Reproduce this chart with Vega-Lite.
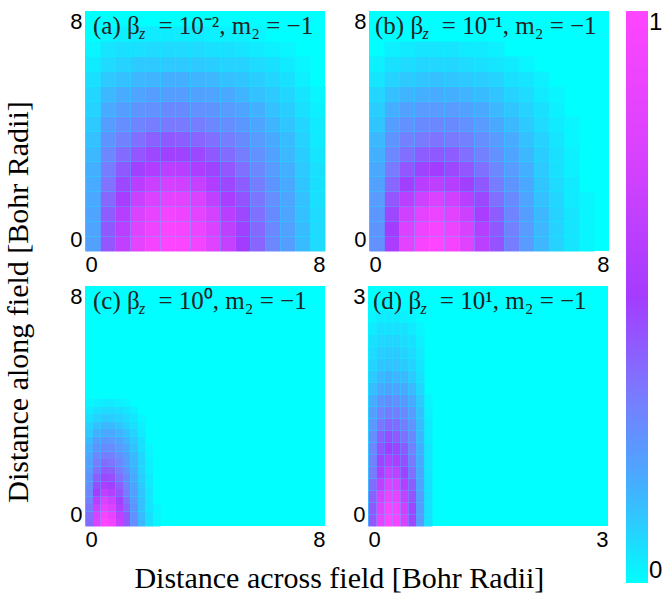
{
 "$schema": "https://vega.github.io/schema/vega-lite/v6.json",
 "background": "white",
 "padding": {"left": 3, "top": 10, "right": 0, "bottom": 0},
 "vconcat": [{
  "title": {"text": "Distance along field [Bohr Radii]", "orient": "left", "anchor": "middle", "font": "Liberation Serif", "fontSize": 30, "fontWeight": "normal", "color": "black", "offset": 36},
  "vconcat": [{
   "title": {"text": "Distance across field [Bohr Radii]", "orient": "bottom", "anchor": "middle", "font": "Liberation Serif", "fontSize": 30, "fontWeight": "normal", "color": "black", "offset": 14},
   "spacing": 10,
   "vconcat": [
    {"spacing": 27, "hconcat": [
     {"width": 240, "height": 240, "layer": [
      {"data": {"name": "a"}, "mark": {"type": "rect"},
       "encoding": {
        "x": {"field": "x", "type": "quantitative", "bin": {"step": 0.5, "extent": [0, 8]}, "scale": {"domain": [0, 8]}, "axis": {"values": [0, 8]}, "title": null},
        "y": {"field": "y", "type": "quantitative", "bin": {"step": 0.5, "extent": [0, 8]}, "scale": {"domain": [0, 8]}, "axis": {"values": [0, 8]}, "title": null},
        "color": {"field": "v", "type": "quantitative", "scale": {"domain": [0, 0.08, 0.18, 0.33, 0.5, 0.75, 1], "range": ["#00ffff", "#22d6ff", "#48abff", "#7a7aff", "#a43cff", "#d842ff", "#ff45ff"], "interpolate": "rgb"},
         "legend": {"type": "gradient", "title": null, "orient": "right", "offset": 17, "direction": "vertical", "gradientLength": 572, "gradientThickness": 22, "values": [0, 1], "format": "d", "labelFont": "Liberation Sans", "labelFontSize": 24, "labelColor": "black", "labelOffset": 1, "gradientStrokeWidth": 0}}
       }},
      {"data": {"values": [{"t": "(a) β\u2002 = 10⁻², m₂ = −1"}]}, "mark": {"type": "text", "font": "Liberation Serif", "fontSize": 25, "align": "left", "baseline": "alphabetic", "dx": 8, "dy": 23, "color": "#222222"},
       "encoding": {"x": {"datum": 0, "title": null}, "y": {"datum": 8, "title": null}, "text": {"field": "t"}}},
      {"data": {"values": [{"t": "z"}]}, "mark": {"type": "text", "font": "Liberation Serif", "fontSize": 16, "fontStyle": "italic", "align": "left", "baseline": "alphabetic", "dx": 54, "dy": 28, "color": "#222222"},
       "encoding": {"x": {"datum": 0, "title": null}, "y": {"datum": 8, "title": null}, "text": {"field": "t"}}}
     ]},
     {"width": 240, "height": 240, "layer": [
      {"data": {"name": "b"}, "mark": {"type": "rect"},
       "encoding": {
        "x": {"field": "x", "type": "quantitative", "bin": {"step": 0.5, "extent": [0, 8]}, "scale": {"domain": [0, 8]}, "axis": {"values": [0, 8]}, "title": null},
        "y": {"field": "y", "type": "quantitative", "bin": {"step": 0.5, "extent": [0, 8]}, "scale": {"domain": [0, 8]}, "axis": {"values": [0, 8]}, "title": null},
        "color": {"field": "v", "type": "quantitative", "scale": {"domain": [0, 0.08, 0.18, 0.33, 0.5, 0.75, 1], "range": ["#00ffff", "#22d6ff", "#48abff", "#7a7aff", "#a43cff", "#d842ff", "#ff45ff"], "interpolate": "rgb"}}
       }},
      {"data": {"values": [{"t": "(b) β\u2002 = 10⁻¹, m₂ = −1"}]}, "mark": {"type": "text", "font": "Liberation Serif", "fontSize": 25, "align": "left", "baseline": "alphabetic", "dx": 6, "dy": 23, "color": "#222222"},
       "encoding": {"x": {"datum": 0, "title": null}, "y": {"datum": 8, "title": null}, "text": {"field": "t"}}},
      {"data": {"values": [{"t": "z"}]}, "mark": {"type": "text", "font": "Liberation Serif", "fontSize": 16, "fontStyle": "italic", "align": "left", "baseline": "alphabetic", "dx": 53.5, "dy": 28, "color": "#222222"},
       "encoding": {"x": {"datum": 0, "title": null}, "y": {"datum": 8, "title": null}, "text": {"field": "t"}}}
     ]}
    ]},
    {"spacing": 27, "hconcat": [
     {"width": 240, "height": 240, "layer": [
      {"data": {"name": "c"}, "mark": {"type": "rect"},
       "encoding": {
        "x": {"field": "x", "type": "quantitative", "bin": {"step": 0.25, "extent": [0, 8]}, "scale": {"domain": [0, 8]}, "axis": {"values": [0, 8]}, "title": null},
        "y": {"field": "y", "type": "quantitative", "bin": {"step": 0.25, "extent": [0, 8]}, "scale": {"domain": [0, 8]}, "axis": {"values": [0, 8]}, "title": null},
        "color": {"field": "v", "type": "quantitative", "scale": {"domain": [0, 0.08, 0.18, 0.33, 0.5, 0.75, 1], "range": ["#00ffff", "#22d6ff", "#48abff", "#7a7aff", "#a43cff", "#d842ff", "#ff45ff"], "interpolate": "rgb"}}
       }},
      {"data": {"values": [{"t": "(c) β\u2002 = 10⁰, m₂ = −1"}]}, "mark": {"type": "text", "font": "Liberation Serif", "fontSize": 25, "align": "left", "baseline": "alphabetic", "dx": 8, "dy": 23, "color": "#222222"},
       "encoding": {"x": {"datum": 0, "title": null}, "y": {"datum": 8, "title": null}, "text": {"field": "t"}}},
      {"data": {"values": [{"t": "z"}]}, "mark": {"type": "text", "font": "Liberation Serif", "fontSize": 16, "fontStyle": "italic", "align": "left", "baseline": "alphabetic", "dx": 54, "dy": 28, "color": "#222222"},
       "encoding": {"x": {"datum": 0, "title": null}, "y": {"datum": 8, "title": null}, "text": {"field": "t"}}}
     ]},
     {"width": 240, "height": 240, "layer": [
      {"data": {"name": "d"}, "mark": {"type": "rect"},
       "encoding": {
        "x": {"field": "x", "type": "quantitative", "bin": {"step": 0.1, "extent": [0, 3]}, "scale": {"domain": [0, 3]}, "axis": {"values": [0, 3]}, "title": null},
        "y": {"field": "y", "type": "quantitative", "bin": {"step": 0.15, "extent": [0, 3]}, "scale": {"domain": [0, 3]}, "axis": {"values": [0, 3]}, "title": null},
        "color": {"field": "v", "type": "quantitative", "scale": {"domain": [0, 0.08, 0.18, 0.33, 0.5, 0.75, 1], "range": ["#00ffff", "#22d6ff", "#48abff", "#7a7aff", "#a43cff", "#d842ff", "#ff45ff"], "interpolate": "rgb"}}
       }},
      {"data": {"values": [{"t": "(d) β\u2002 = 10¹, m₂ = −1"}]}, "mark": {"type": "text", "font": "Liberation Serif", "fontSize": 25, "align": "left", "baseline": "alphabetic", "dx": 5, "dy": 23, "color": "#222222"},
       "encoding": {"x": {"datum": 0, "title": null}, "y": {"datum": 3, "title": null}, "text": {"field": "t"}}},
      {"data": {"values": [{"t": "z"}]}, "mark": {"type": "text", "font": "Liberation Serif", "fontSize": 16, "fontStyle": "italic", "align": "left", "baseline": "alphabetic", "dx": 52.5, "dy": 28, "color": "#222222"},
       "encoding": {"x": {"datum": 0, "title": null}, "y": {"datum": 3, "title": null}, "text": {"field": "t"}}}
     ]}
    ]}
   ]
  }]
 }],
 "datasets": {
  "a": [
   {"x":0.25,"y":0.25,"v":0.21},{"x":0.75,"y":0.25,"v":0.43},{"x":1.25,"y":0.25,"v":0.64},{"x":1.75,"y":0.25,"v":0.83},{"x":2.25,"y":0.25,"v":0.93},{"x":2.75,"y":0.25,"v":1.00},{"x":3.25,"y":0.25,"v":0.98},{"x":3.75,"y":0.25,"v":0.92},{"x":4.25,"y":0.25,"v":0.80},{"x":4.75,"y":0.25,"v":0.66},{"x":5.25,"y":0.25,"v":0.50},{"x":5.75,"y":0.25,"v":0.39},{"x":6.25,"y":0.25,"v":0.29},{"x":6.75,"y":0.25,"v":0.22},{"x":7.25,"y":0.25,"v":0.14},{"x":7.75,"y":0.25,"v":0.07},
   {"x":0.25,"y":0.75,"v":0.20},{"x":0.75,"y":0.75,"v":0.42},{"x":1.25,"y":0.75,"v":0.61},{"x":1.75,"y":0.75,"v":0.80},{"x":2.25,"y":0.75,"v":0.90},{"x":2.75,"y":0.75,"v":0.97},{"x":3.25,"y":0.75,"v":0.95},{"x":3.75,"y":0.75,"v":0.88},{"x":4.25,"y":0.75,"v":0.76},{"x":4.75,"y":0.75,"v":0.63},{"x":5.25,"y":0.75,"v":0.49},{"x":5.75,"y":0.75,"v":0.38},{"x":6.25,"y":0.75,"v":0.29},{"x":6.75,"y":0.75,"v":0.21},{"x":7.25,"y":0.75,"v":0.14},{"x":7.75,"y":0.75,"v":0.07},
   {"x":0.25,"y":1.25,"v":0.20},{"x":0.75,"y":1.25,"v":0.41},{"x":1.25,"y":1.25,"v":0.58},{"x":1.75,"y":1.25,"v":0.76},{"x":2.25,"y":1.25,"v":0.85},{"x":2.75,"y":1.25,"v":0.92},{"x":3.25,"y":1.25,"v":0.90},{"x":3.75,"y":1.25,"v":0.83},{"x":4.25,"y":1.25,"v":0.73},{"x":4.75,"y":1.25,"v":0.60},{"x":5.25,"y":1.25,"v":0.47},{"x":5.75,"y":1.25,"v":0.36},{"x":6.25,"y":1.25,"v":0.28},{"x":6.75,"y":1.25,"v":0.20},{"x":7.25,"y":1.25,"v":0.13},{"x":7.75,"y":1.25,"v":0.07},
   {"x":0.25,"y":1.75,"v":0.19},{"x":0.75,"y":1.75,"v":0.38},{"x":1.25,"y":1.75,"v":0.52},{"x":1.75,"y":1.75,"v":0.68},{"x":2.25,"y":1.75,"v":0.76},{"x":2.75,"y":1.75,"v":0.83},{"x":3.25,"y":1.75,"v":0.81},{"x":3.75,"y":1.75,"v":0.76},{"x":4.25,"y":1.75,"v":0.64},{"x":4.75,"y":1.75,"v":0.53},{"x":5.25,"y":1.75,"v":0.44},{"x":5.75,"y":1.75,"v":0.34},{"x":6.25,"y":1.75,"v":0.27},{"x":6.75,"y":1.75,"v":0.20},{"x":7.25,"y":1.75,"v":0.13},{"x":7.75,"y":1.75,"v":0.06},
   {"x":0.25,"y":2.25,"v":0.18},{"x":0.75,"y":2.25,"v":0.35},{"x":1.25,"y":2.25,"v":0.47},{"x":1.75,"y":2.25,"v":0.60},{"x":2.25,"y":2.25,"v":0.68},{"x":2.75,"y":2.25,"v":0.73},{"x":3.25,"y":2.25,"v":0.71},{"x":3.75,"y":2.25,"v":0.66},{"x":4.25,"y":2.25,"v":0.56},{"x":4.75,"y":2.25,"v":0.47},{"x":5.25,"y":2.25,"v":0.41},{"x":5.75,"y":2.25,"v":0.32},{"x":6.25,"y":2.25,"v":0.25},{"x":6.75,"y":2.25,"v":0.19},{"x":7.25,"y":2.25,"v":0.12},{"x":7.75,"y":2.25,"v":0.06},
   {"x":0.25,"y":2.75,"v":0.17},{"x":0.75,"y":2.75,"v":0.32},{"x":1.25,"y":2.75,"v":0.42},{"x":1.75,"y":2.75,"v":0.49},{"x":2.25,"y":2.75,"v":0.56},{"x":2.75,"y":2.75,"v":0.61},{"x":3.25,"y":2.75,"v":0.60},{"x":3.75,"y":2.75,"v":0.55},{"x":4.25,"y":2.75,"v":0.48},{"x":4.75,"y":2.75,"v":0.43},{"x":5.25,"y":2.75,"v":0.36},{"x":5.75,"y":2.75,"v":0.29},{"x":6.25,"y":2.75,"v":0.23},{"x":6.75,"y":2.75,"v":0.17},{"x":7.25,"y":2.75,"v":0.11},{"x":7.75,"y":2.75,"v":0.06},
   {"x":0.25,"y":3.25,"v":0.15},{"x":0.75,"y":3.25,"v":0.29},{"x":1.25,"y":3.25,"v":0.37},{"x":1.75,"y":3.25,"v":0.43},{"x":2.25,"y":3.25,"v":0.47},{"x":2.75,"y":3.25,"v":0.49},{"x":3.25,"y":3.25,"v":0.48},{"x":3.75,"y":3.25,"v":0.47},{"x":4.25,"y":3.25,"v":0.42},{"x":4.75,"y":3.25,"v":0.37},{"x":5.25,"y":3.25,"v":0.32},{"x":5.75,"y":3.25,"v":0.26},{"x":6.25,"y":3.25,"v":0.21},{"x":6.75,"y":3.25,"v":0.15},{"x":7.25,"y":3.25,"v":0.10},{"x":7.75,"y":3.25,"v":0.05},
   {"x":0.25,"y":3.75,"v":0.13},{"x":0.75,"y":3.75,"v":0.25},{"x":1.25,"y":3.75,"v":0.31},{"x":1.75,"y":3.75,"v":0.36},{"x":2.25,"y":3.75,"v":0.40},{"x":2.75,"y":3.75,"v":0.42},{"x":3.25,"y":3.75,"v":0.41},{"x":3.75,"y":3.75,"v":0.39},{"x":4.25,"y":3.75,"v":0.36},{"x":4.75,"y":3.75,"v":0.32},{"x":5.25,"y":3.75,"v":0.28},{"x":5.75,"y":3.75,"v":0.23},{"x":6.25,"y":3.75,"v":0.19},{"x":6.75,"y":3.75,"v":0.14},{"x":7.25,"y":3.75,"v":0.09},{"x":7.75,"y":3.75,"v":0.04},
   {"x":0.25,"y":4.25,"v":0.11},{"x":0.75,"y":4.25,"v":0.22},{"x":1.25,"y":4.25,"v":0.27},{"x":1.75,"y":4.25,"v":0.30},{"x":2.25,"y":4.25,"v":0.32},{"x":2.75,"y":4.25,"v":0.33},{"x":3.25,"y":4.25,"v":0.33},{"x":3.75,"y":4.25,"v":0.32},{"x":4.25,"y":4.25,"v":0.29},{"x":4.75,"y":4.25,"v":0.27},{"x":5.25,"y":4.25,"v":0.24},{"x":5.75,"y":4.25,"v":0.20},{"x":6.25,"y":4.25,"v":0.16},{"x":6.75,"y":4.25,"v":0.12},{"x":7.25,"y":4.25,"v":0.08},{"x":7.75,"y":4.25,"v":0.04},
   {"x":0.25,"y":4.75,"v":0.09},{"x":0.75,"y":4.75,"v":0.18},{"x":1.25,"y":4.75,"v":0.22},{"x":1.75,"y":4.75,"v":0.25},{"x":2.25,"y":4.75,"v":0.26},{"x":2.75,"y":4.75,"v":0.28},{"x":3.25,"y":4.75,"v":0.28},{"x":3.75,"y":4.75,"v":0.26},{"x":4.25,"y":4.75,"v":0.25},{"x":4.75,"y":4.75,"v":0.23},{"x":5.25,"y":4.75,"v":0.20},{"x":5.75,"y":4.75,"v":0.17},{"x":6.25,"y":4.75,"v":0.13},{"x":6.75,"y":4.75,"v":0.10},{"x":7.25,"y":4.75,"v":0.06},{"x":7.75,"y":4.75,"v":0.03},
   {"x":0.25,"y":5.25,"v":0.08},{"x":0.75,"y":5.25,"v":0.15},{"x":1.25,"y":5.25,"v":0.18},{"x":1.75,"y":5.25,"v":0.20},{"x":2.25,"y":5.25,"v":0.22},{"x":2.75,"y":5.25,"v":0.22},{"x":3.25,"y":5.25,"v":0.22},{"x":3.75,"y":5.25,"v":0.21},{"x":4.25,"y":5.25,"v":0.20},{"x":4.75,"y":5.25,"v":0.19},{"x":5.25,"y":5.25,"v":0.16},{"x":5.75,"y":5.25,"v":0.13},{"x":6.25,"y":5.25,"v":0.11},{"x":6.75,"y":5.25,"v":0.08},{"x":7.25,"y":5.25,"v":0.05},{"x":7.75,"y":5.25,"v":0.02},
   {"x":0.25,"y":5.75,"v":0.06},{"x":0.75,"y":5.75,"v":0.11},{"x":1.25,"y":5.75,"v":0.13},{"x":1.75,"y":5.75,"v":0.15},{"x":2.25,"y":5.75,"v":0.16},{"x":2.75,"y":5.75,"v":0.17},{"x":3.25,"y":5.75,"v":0.17},{"x":3.75,"y":5.75,"v":0.16},{"x":4.25,"y":5.75,"v":0.15},{"x":4.75,"y":5.75,"v":0.13},{"x":5.25,"y":5.75,"v":0.12},{"x":5.75,"y":5.75,"v":0.10},{"x":6.25,"y":5.75,"v":0.08},{"x":6.75,"y":5.75,"v":0.06},{"x":7.25,"y":5.75,"v":0.03},
   {"x":0.25,"y":6.25,"v":0.04},{"x":0.75,"y":6.25,"v":0.07},{"x":1.25,"y":6.25,"v":0.09},{"x":1.75,"y":6.25,"v":0.11},{"x":2.25,"y":6.25,"v":0.11},{"x":2.75,"y":6.25,"v":0.11},{"x":3.25,"y":6.25,"v":0.11},{"x":3.75,"y":6.25,"v":0.11},{"x":4.25,"y":6.25,"v":0.10},{"x":4.75,"y":6.25,"v":0.09},{"x":5.25,"y":6.25,"v":0.09},{"x":5.75,"y":6.25,"v":0.07},{"x":6.25,"y":6.25,"v":0.06},{"x":6.75,"y":6.25,"v":0.04},{"x":7.25,"y":6.25,"v":0.02},
   {"x":0.25,"y":6.75,"v":0.02},{"x":0.75,"y":6.75,"v":0.05},{"x":1.25,"y":6.75,"v":0.06},{"x":1.75,"y":6.75,"v":0.06},{"x":2.25,"y":6.75,"v":0.07},{"x":2.75,"y":6.75,"v":0.07},{"x":3.25,"y":6.75,"v":0.07},{"x":3.75,"y":6.75,"v":0.07},{"x":4.25,"y":6.75,"v":0.06},{"x":4.75,"y":6.75,"v":0.06},{"x":5.25,"y":6.75,"v":0.05},{"x":5.75,"y":6.75,"v":0.04},{"x":6.25,"y":6.75,"v":0.03},{"x":6.75,"y":6.75,"v":0.02},
   {"x":0.75,"y":7.25,"v":0.02},{"x":1.25,"y":7.25,"v":0.03},{"x":1.75,"y":7.25,"v":0.04},{"x":2.25,"y":7.25,"v":0.04},{"x":2.75,"y":7.25,"v":0.04},{"x":3.25,"y":7.25,"v":0.04},{"x":3.75,"y":7.25,"v":0.04},{"x":4.25,"y":7.25,"v":0.03},{"x":4.75,"y":7.25,"v":0.03},{"x":5.25,"y":7.25,"v":0.03},{"x":5.75,"y":7.25,"v":0.02}
  ],
  "b": [
   {"x":0.25,"y":0.25,"v":0.26},{"x":0.75,"y":0.25,"v":0.53},{"x":1.25,"y":0.25,"v":0.81},{"x":1.75,"y":0.25,"v":0.95},{"x":2.25,"y":0.25,"v":1.00},{"x":2.75,"y":0.25,"v":0.93},{"x":3.25,"y":0.25,"v":0.80},{"x":3.75,"y":0.25,"v":0.61},{"x":4.25,"y":0.25,"v":0.44},{"x":4.75,"y":0.25,"v":0.32},{"x":5.25,"y":0.25,"v":0.23},{"x":5.75,"y":0.25,"v":0.15},{"x":6.25,"y":0.25,"v":0.09},{"x":6.75,"y":0.25,"v":0.05},{"x":7.25,"y":0.25,"v":0.02},
   {"x":0.25,"y":0.75,"v":0.25},{"x":0.75,"y":0.75,"v":0.50},{"x":1.25,"y":0.75,"v":0.76},{"x":1.75,"y":0.75,"v":0.90},{"x":2.25,"y":0.75,"v":0.95},{"x":2.75,"y":0.75,"v":0.88},{"x":3.25,"y":0.75,"v":0.75},{"x":3.75,"y":0.75,"v":0.58},{"x":4.25,"y":0.75,"v":0.42},{"x":4.75,"y":0.75,"v":0.31},{"x":5.25,"y":0.75,"v":0.23},{"x":5.75,"y":0.75,"v":0.15},{"x":6.25,"y":0.75,"v":0.09},{"x":6.75,"y":0.75,"v":0.05},{"x":7.25,"y":0.75,"v":0.02},
   {"x":0.25,"y":1.25,"v":0.24},{"x":0.75,"y":1.25,"v":0.47},{"x":1.25,"y":1.25,"v":0.71},{"x":1.75,"y":1.25,"v":0.83},{"x":2.25,"y":1.25,"v":0.88},{"x":2.75,"y":1.25,"v":0.81},{"x":3.25,"y":1.25,"v":0.69},{"x":3.75,"y":1.25,"v":0.53},{"x":4.25,"y":1.25,"v":0.41},{"x":4.75,"y":1.25,"v":0.30},{"x":5.25,"y":1.25,"v":0.22},{"x":5.75,"y":1.25,"v":0.15},{"x":6.25,"y":1.25,"v":0.09},{"x":6.75,"y":1.25,"v":0.05},{"x":7.25,"y":1.25,"v":0.02},
   {"x":0.25,"y":1.75,"v":0.23},{"x":0.75,"y":1.75,"v":0.43},{"x":1.25,"y":1.75,"v":0.61},{"x":1.75,"y":1.75,"v":0.71},{"x":2.25,"y":1.75,"v":0.76},{"x":2.75,"y":1.75,"v":0.71},{"x":3.25,"y":1.75,"v":0.60},{"x":3.75,"y":1.75,"v":0.47},{"x":4.25,"y":1.75,"v":0.36},{"x":4.75,"y":1.75,"v":0.28},{"x":5.25,"y":1.75,"v":0.20},{"x":5.75,"y":1.75,"v":0.13},{"x":6.25,"y":1.75,"v":0.08},{"x":6.75,"y":1.75,"v":0.04},{"x":7.25,"y":1.75,"v":0.02},
   {"x":0.25,"y":2.25,"v":0.21},{"x":0.75,"y":2.25,"v":0.38},{"x":1.25,"y":2.25,"v":0.49},{"x":1.75,"y":2.25,"v":0.60},{"x":2.25,"y":2.25,"v":0.63},{"x":2.75,"y":2.25,"v":0.58},{"x":3.25,"y":2.25,"v":0.49},{"x":3.75,"y":2.25,"v":0.42},{"x":4.25,"y":2.25,"v":0.32},{"x":4.75,"y":2.25,"v":0.25},{"x":5.25,"y":2.25,"v":0.19},{"x":5.75,"y":2.25,"v":0.12},{"x":6.25,"y":2.25,"v":0.07},{"x":6.75,"y":2.25,"v":0.04},
   {"x":0.25,"y":2.75,"v":0.19},{"x":0.75,"y":2.75,"v":0.33},{"x":1.25,"y":2.75,"v":0.43},{"x":1.75,"y":2.75,"v":0.48},{"x":2.25,"y":2.75,"v":0.50},{"x":2.75,"y":2.75,"v":0.47},{"x":3.25,"y":2.75,"v":0.43},{"x":3.75,"y":2.75,"v":0.36},{"x":4.25,"y":2.75,"v":0.29},{"x":4.75,"y":2.75,"v":0.23},{"x":5.25,"y":2.75,"v":0.17},{"x":5.75,"y":2.75,"v":0.11},{"x":6.25,"y":2.75,"v":0.06},{"x":6.75,"y":2.75,"v":0.03},
   {"x":0.25,"y":3.25,"v":0.17},{"x":0.75,"y":3.25,"v":0.29},{"x":1.25,"y":3.25,"v":0.36},{"x":1.75,"y":3.25,"v":0.41},{"x":2.25,"y":3.25,"v":0.42},{"x":2.75,"y":3.25,"v":0.41},{"x":3.25,"y":3.25,"v":0.36},{"x":3.75,"y":3.25,"v":0.31},{"x":4.25,"y":3.25,"v":0.26},{"x":4.75,"y":3.25,"v":0.20},{"x":5.25,"y":3.25,"v":0.15},{"x":5.75,"y":3.25,"v":0.10},{"x":6.25,"y":3.25,"v":0.06},{"x":6.75,"y":3.25,"v":0.03},
   {"x":0.25,"y":3.75,"v":0.15},{"x":0.75,"y":3.75,"v":0.25},{"x":1.25,"y":3.75,"v":0.31},{"x":1.75,"y":3.75,"v":0.33},{"x":2.25,"y":3.75,"v":0.35},{"x":2.75,"y":3.75,"v":0.33},{"x":3.25,"y":3.75,"v":0.31},{"x":3.75,"y":3.75,"v":0.27},{"x":4.25,"y":3.75,"v":0.23},{"x":4.75,"y":3.75,"v":0.18},{"x":5.25,"y":3.75,"v":0.13},{"x":5.75,"y":3.75,"v":0.09},{"x":6.25,"y":3.75,"v":0.05},{"x":6.75,"y":3.75,"v":0.02},
   {"x":0.25,"y":4.25,"v":0.12},{"x":0.75,"y":4.25,"v":0.22},{"x":1.25,"y":4.25,"v":0.26},{"x":1.75,"y":4.25,"v":0.28},{"x":2.25,"y":4.25,"v":0.29},{"x":2.75,"y":4.25,"v":0.28},{"x":3.25,"y":4.25,"v":0.26},{"x":3.75,"y":4.25,"v":0.23},{"x":4.25,"y":4.25,"v":0.19},{"x":4.75,"y":4.25,"v":0.15},{"x":5.25,"y":4.25,"v":0.11},{"x":5.75,"y":4.25,"v":0.07},{"x":6.25,"y":4.25,"v":0.04},{"x":6.75,"y":4.25,"v":0.02},
   {"x":0.25,"y":4.75,"v":0.10},{"x":0.75,"y":4.75,"v":0.17},{"x":1.25,"y":4.75,"v":0.21},{"x":1.75,"y":4.75,"v":0.23},{"x":2.25,"y":4.75,"v":0.23},{"x":2.75,"y":4.75,"v":0.23},{"x":3.25,"y":4.75,"v":0.21},{"x":3.75,"y":4.75,"v":0.19},{"x":4.25,"y":4.75,"v":0.15},{"x":4.75,"y":4.75,"v":0.12},{"x":5.25,"y":4.75,"v":0.09},{"x":5.75,"y":4.75,"v":0.06},{"x":6.25,"y":4.75,"v":0.03},
   {"x":0.25,"y":5.25,"v":0.08},{"x":0.75,"y":5.25,"v":0.13},{"x":1.25,"y":5.25,"v":0.16},{"x":1.75,"y":5.25,"v":0.17},{"x":2.25,"y":5.25,"v":0.18},{"x":2.75,"y":5.25,"v":0.17},{"x":3.25,"y":5.25,"v":0.16},{"x":3.75,"y":5.25,"v":0.14},{"x":4.25,"y":5.25,"v":0.12},{"x":4.75,"y":5.25,"v":0.09},{"x":5.25,"y":5.25,"v":0.07},{"x":5.75,"y":5.25,"v":0.04},{"x":6.25,"y":5.25,"v":0.02},
   {"x":0.25,"y":5.75,"v":0.05},{"x":0.75,"y":5.75,"v":0.09},{"x":1.25,"y":5.75,"v":0.11},{"x":1.75,"y":5.75,"v":0.12},{"x":2.25,"y":5.75,"v":0.13},{"x":2.75,"y":5.75,"v":0.12},{"x":3.25,"y":5.75,"v":0.11},{"x":3.75,"y":5.75,"v":0.10},{"x":4.25,"y":5.75,"v":0.09},{"x":4.75,"y":5.75,"v":0.06},{"x":5.25,"y":5.75,"v":0.05},{"x":5.75,"y":5.75,"v":0.03},
   {"x":0.25,"y":6.25,"v":0.03},{"x":0.75,"y":6.25,"v":0.06},{"x":1.25,"y":6.25,"v":0.07},{"x":1.75,"y":6.25,"v":0.08},{"x":2.25,"y":6.25,"v":0.08},{"x":2.75,"y":6.25,"v":0.08},{"x":3.25,"y":6.25,"v":0.07},{"x":3.75,"y":6.25,"v":0.06},{"x":4.25,"y":6.25,"v":0.05},{"x":4.75,"y":6.25,"v":0.04},{"x":5.25,"y":6.25,"v":0.02},
   {"x":0.75,"y":6.75,"v":0.03},{"x":1.25,"y":6.75,"v":0.04},{"x":1.75,"y":6.75,"v":0.05},{"x":2.25,"y":6.75,"v":0.05},{"x":2.75,"y":6.75,"v":0.05},{"x":3.25,"y":6.75,"v":0.04},{"x":3.75,"y":6.75,"v":0.04},{"x":4.25,"y":6.75,"v":0.03}
  ],
  "c": [
   {"x":0.125,"y":0.125,"v":0.37},{"x":0.375,"y":0.125,"v":0.80},{"x":0.625,"y":0.125,"v":1.00},{"x":0.875,"y":0.125,"v":0.92},{"x":1.125,"y":0.125,"v":0.66},{"x":1.375,"y":0.125,"v":0.43},{"x":1.625,"y":0.125,"v":0.27},{"x":1.875,"y":0.125,"v":0.15},{"x":2.125,"y":0.125,"v":0.06},{"x":2.375,"y":0.125,"v":0.02},
   {"x":0.125,"y":0.375,"v":0.36},{"x":0.375,"y":0.375,"v":0.75},{"x":0.625,"y":0.375,"v":0.95},{"x":0.875,"y":0.375,"v":0.86},{"x":1.125,"y":0.375,"v":0.63},{"x":1.375,"y":0.375,"v":0.42},{"x":1.625,"y":0.375,"v":0.26},{"x":1.875,"y":0.375,"v":0.14},{"x":2.125,"y":0.375,"v":0.06},{"x":2.375,"y":0.375,"v":0.02},
   {"x":0.125,"y":0.625,"v":0.34},{"x":0.375,"y":0.625,"v":0.68},{"x":0.625,"y":0.625,"v":0.86},{"x":0.875,"y":0.625,"v":0.78},{"x":1.125,"y":0.625,"v":0.56},{"x":1.375,"y":0.625,"v":0.39},{"x":1.625,"y":0.625,"v":0.25},{"x":1.875,"y":0.625,"v":0.13},{"x":2.125,"y":0.625,"v":0.05},{"x":2.375,"y":0.625,"v":0.02},
   {"x":0.125,"y":0.875,"v":0.31},{"x":0.375,"y":0.875,"v":0.60},{"x":0.625,"y":0.875,"v":0.76},{"x":0.875,"y":0.875,"v":0.69},{"x":1.125,"y":0.875,"v":0.49},{"x":1.375,"y":0.875,"v":0.36},{"x":1.625,"y":0.875,"v":0.23},{"x":1.875,"y":0.875,"v":0.13},{"x":2.125,"y":0.875,"v":0.05},
   {"x":0.125,"y":1.125,"v":0.29},{"x":0.375,"y":1.125,"v":0.50},{"x":0.625,"y":1.125,"v":0.64},{"x":0.875,"y":1.125,"v":0.58},{"x":1.125,"y":1.125,"v":0.44},{"x":1.375,"y":1.125,"v":0.32},{"x":1.625,"y":1.125,"v":0.22},{"x":1.875,"y":1.125,"v":0.12},{"x":2.125,"y":1.125,"v":0.05},
   {"x":0.125,"y":1.375,"v":0.27},{"x":0.375,"y":1.375,"v":0.45},{"x":0.625,"y":1.375,"v":0.55},{"x":0.875,"y":1.375,"v":0.49},{"x":1.125,"y":1.375,"v":0.40},{"x":1.375,"y":1.375,"v":0.30},{"x":1.625,"y":1.375,"v":0.20},{"x":1.875,"y":1.375,"v":0.11},{"x":2.125,"y":1.375,"v":0.04},
   {"x":0.125,"y":1.625,"v":0.25},{"x":0.375,"y":1.625,"v":0.41},{"x":0.625,"y":1.625,"v":0.47},{"x":0.875,"y":1.625,"v":0.45},{"x":1.125,"y":1.625,"v":0.36},{"x":1.375,"y":1.625,"v":0.28},{"x":1.625,"y":1.625,"v":0.19},{"x":1.875,"y":1.625,"v":0.10},{"x":2.125,"y":1.625,"v":0.04},
   {"x":0.125,"y":1.875,"v":0.23},{"x":0.375,"y":1.875,"v":0.36},{"x":0.625,"y":1.875,"v":0.42},{"x":0.875,"y":1.875,"v":0.40},{"x":1.125,"y":1.875,"v":0.32},{"x":1.375,"y":1.875,"v":0.26},{"x":1.625,"y":1.875,"v":0.17},{"x":1.875,"y":1.875,"v":0.09},{"x":2.125,"y":1.875,"v":0.03},
   {"x":0.125,"y":2.125,"v":0.21},{"x":0.375,"y":2.125,"v":0.32},{"x":0.625,"y":2.125,"v":0.37},{"x":0.875,"y":2.125,"v":0.35},{"x":1.125,"y":2.125,"v":0.29},{"x":1.375,"y":2.125,"v":0.23},{"x":1.625,"y":2.125,"v":0.16},{"x":1.875,"y":2.125,"v":0.09},{"x":2.125,"y":2.125,"v":0.03},
   {"x":0.125,"y":2.375,"v":0.19},{"x":0.375,"y":2.375,"v":0.29},{"x":0.625,"y":2.375,"v":0.32},{"x":0.875,"y":2.375,"v":0.31},{"x":1.125,"y":2.375,"v":0.26},{"x":1.375,"y":2.375,"v":0.21},{"x":1.625,"y":2.375,"v":0.15},{"x":1.875,"y":2.375,"v":0.08},{"x":2.125,"y":2.375,"v":0.02},
   {"x":0.125,"y":2.625,"v":0.17},{"x":0.375,"y":2.625,"v":0.25},{"x":0.625,"y":2.625,"v":0.28},{"x":0.875,"y":2.625,"v":0.27},{"x":1.125,"y":2.625,"v":0.23},{"x":1.375,"y":2.625,"v":0.19},{"x":1.625,"y":2.625,"v":0.13},{"x":1.875,"y":2.625,"v":0.06},{"x":2.125,"y":2.625,"v":0.02},
   {"x":0.125,"y":2.875,"v":0.14},{"x":0.375,"y":2.875,"v":0.22},{"x":0.625,"y":2.875,"v":0.24},{"x":0.875,"y":2.875,"v":0.23},{"x":1.125,"y":2.875,"v":0.20},{"x":1.375,"y":2.875,"v":0.16},{"x":1.625,"y":2.875,"v":0.11},{"x":1.875,"y":2.875,"v":0.06},
   {"x":0.125,"y":3.125,"v":0.11},{"x":0.375,"y":3.125,"v":0.17},{"x":0.625,"y":3.125,"v":0.19},{"x":0.875,"y":3.125,"v":0.19},{"x":1.125,"y":3.125,"v":0.16},{"x":1.375,"y":3.125,"v":0.13},{"x":1.625,"y":3.125,"v":0.09},{"x":1.875,"y":3.125,"v":0.04},
   {"x":0.125,"y":3.375,"v":0.09},{"x":0.375,"y":3.375,"v":0.13},{"x":0.625,"y":3.375,"v":0.15},{"x":0.875,"y":3.375,"v":0.14},{"x":1.125,"y":3.375,"v":0.12},{"x":1.375,"y":3.375,"v":0.09},{"x":1.625,"y":3.375,"v":0.06},{"x":1.875,"y":3.375,"v":0.03},
   {"x":0.125,"y":3.625,"v":0.06},{"x":0.375,"y":3.625,"v":0.09},{"x":0.625,"y":3.625,"v":0.11},{"x":0.875,"y":3.625,"v":0.10},{"x":1.125,"y":3.625,"v":0.09},{"x":1.375,"y":3.625,"v":0.07},{"x":1.625,"y":3.625,"v":0.05},{"x":1.875,"y":3.625,"v":0.02},
   {"x":0.125,"y":3.875,"v":0.04},{"x":0.375,"y":3.875,"v":0.06},{"x":0.625,"y":3.875,"v":0.07},{"x":0.875,"y":3.875,"v":0.07},{"x":1.125,"y":3.875,"v":0.06},{"x":1.375,"y":3.875,"v":0.05},{"x":1.625,"y":3.875,"v":0.03},
   {"x":0.125,"y":4.125,"v":0.02},{"x":0.375,"y":4.125,"v":0.03},{"x":0.625,"y":4.125,"v":0.04},{"x":0.875,"y":4.125,"v":0.04},{"x":1.125,"y":4.125,"v":0.03},{"x":1.375,"y":4.125,"v":0.02}
  ],
  "d": [
   {"x":0.05,"y":0.075,"v":0.43},{"x":0.15,"y":0.075,"v":0.83},{"x":0.25,"y":0.075,"v":1.00},{"x":0.35,"y":0.075,"v":0.95},{"x":0.45,"y":0.075,"v":0.75},{"x":0.55,"y":0.075,"v":0.47},{"x":0.65,"y":0.075,"v":0.23},{"x":0.75,"y":0.075,"v":0.06},
   {"x":0.05,"y":0.225,"v":0.42},{"x":0.15,"y":0.225,"v":0.80},{"x":0.25,"y":0.225,"v":0.97},{"x":0.35,"y":0.225,"v":0.92},{"x":0.45,"y":0.225,"v":0.71},{"x":0.55,"y":0.225,"v":0.47},{"x":0.65,"y":0.225,"v":0.22},{"x":0.75,"y":0.225,"v":0.06},
   {"x":0.05,"y":0.375,"v":0.40},{"x":0.15,"y":0.375,"v":0.75},{"x":0.25,"y":0.375,"v":0.90},{"x":0.35,"y":0.375,"v":0.85},{"x":0.45,"y":0.375,"v":0.66},{"x":0.55,"y":0.375,"v":0.44},{"x":0.65,"y":0.375,"v":0.22},{"x":0.75,"y":0.375,"v":0.06},
   {"x":0.05,"y":0.525,"v":0.37},{"x":0.15,"y":0.525,"v":0.64},{"x":0.25,"y":0.525,"v":0.80},{"x":0.35,"y":0.525,"v":0.75},{"x":0.45,"y":0.525,"v":0.58},{"x":0.55,"y":0.525,"v":0.41},{"x":0.65,"y":0.525,"v":0.20},{"x":0.75,"y":0.525,"v":0.06},
   {"x":0.05,"y":0.675,"v":0.33},{"x":0.15,"y":0.675,"v":0.55},{"x":0.25,"y":0.675,"v":0.68},{"x":0.35,"y":0.675,"v":0.64},{"x":0.45,"y":0.675,"v":0.49},{"x":0.55,"y":0.675,"v":0.36},{"x":0.65,"y":0.675,"v":0.19},{"x":0.75,"y":0.675,"v":0.05},
   {"x":0.05,"y":0.825,"v":0.31},{"x":0.15,"y":0.825,"v":0.48},{"x":0.25,"y":0.825,"v":0.58},{"x":0.35,"y":0.825,"v":0.55},{"x":0.45,"y":0.825,"v":0.45},{"x":0.55,"y":0.825,"v":0.33},{"x":0.65,"y":0.825,"v":0.18},{"x":0.75,"y":0.825,"v":0.05},
   {"x":0.05,"y":0.975,"v":0.29},{"x":0.15,"y":0.975,"v":0.44},{"x":0.25,"y":0.975,"v":0.50},{"x":0.35,"y":0.975,"v":0.48},{"x":0.45,"y":0.975,"v":0.42},{"x":0.55,"y":0.975,"v":0.31},{"x":0.65,"y":0.975,"v":0.17},{"x":0.75,"y":0.975,"v":0.05},
   {"x":0.05,"y":1.125,"v":0.27},{"x":0.15,"y":1.125,"v":0.40},{"x":0.25,"y":1.125,"v":0.45},{"x":0.35,"y":1.125,"v":0.43},{"x":0.45,"y":1.125,"v":0.36},{"x":0.55,"y":1.125,"v":0.29},{"x":0.65,"y":1.125,"v":0.15},{"x":0.75,"y":1.125,"v":0.04},
   {"x":0.05,"y":1.275,"v":0.24},{"x":0.15,"y":1.275,"v":0.34},{"x":0.25,"y":1.275,"v":0.39},{"x":0.35,"y":1.275,"v":0.37},{"x":0.45,"y":1.275,"v":0.32},{"x":0.55,"y":1.275,"v":0.26},{"x":0.65,"y":1.275,"v":0.14},{"x":0.75,"y":1.275,"v":0.04},
   {"x":0.05,"y":1.425,"v":0.22},{"x":0.15,"y":1.425,"v":0.30},{"x":0.25,"y":1.425,"v":0.33},{"x":0.35,"y":1.425,"v":0.32},{"x":0.45,"y":1.425,"v":0.29},{"x":0.55,"y":1.425,"v":0.23},{"x":0.65,"y":1.425,"v":0.13},{"x":0.75,"y":1.425,"v":0.03},
   {"x":0.05,"y":1.575,"v":0.18},{"x":0.15,"y":1.575,"v":0.25},{"x":0.25,"y":1.575,"v":0.28},{"x":0.35,"y":1.575,"v":0.27},{"x":0.45,"y":1.575,"v":0.24},{"x":0.55,"y":1.575,"v":0.19},{"x":0.65,"y":1.575,"v":0.11},{"x":0.75,"y":1.575,"v":0.02},
   {"x":0.05,"y":1.725,"v":0.14},{"x":0.15,"y":1.725,"v":0.19},{"x":0.25,"y":1.725,"v":0.21},{"x":0.35,"y":1.725,"v":0.20},{"x":0.45,"y":1.725,"v":0.19},{"x":0.55,"y":1.725,"v":0.15},{"x":0.65,"y":1.725,"v":0.08},
   {"x":0.05,"y":1.875,"v":0.11},{"x":0.15,"y":1.875,"v":0.15},{"x":0.25,"y":1.875,"v":0.17},{"x":0.35,"y":1.875,"v":0.16},{"x":0.45,"y":1.875,"v":0.15},{"x":0.55,"y":1.875,"v":0.11},{"x":0.65,"y":1.875,"v":0.06},
   {"x":0.05,"y":2.025,"v":0.09},{"x":0.15,"y":2.025,"v":0.12},{"x":0.25,"y":2.025,"v":0.13},{"x":0.35,"y":2.025,"v":0.13},{"x":0.45,"y":2.025,"v":0.11},{"x":0.55,"y":2.025,"v":0.09},{"x":0.65,"y":2.025,"v":0.05},
   {"x":0.05,"y":2.175,"v":0.07},{"x":0.15,"y":2.175,"v":0.10},{"x":0.25,"y":2.175,"v":0.11},{"x":0.35,"y":2.175,"v":0.11},{"x":0.45,"y":2.175,"v":0.09},{"x":0.55,"y":2.175,"v":0.07},{"x":0.65,"y":2.175,"v":0.04},
   {"x":0.05,"y":2.325,"v":0.06},{"x":0.15,"y":2.325,"v":0.08},{"x":0.25,"y":2.325,"v":0.09},{"x":0.35,"y":2.325,"v":0.09},{"x":0.45,"y":2.325,"v":0.07},{"x":0.55,"y":2.325,"v":0.06},{"x":0.65,"y":2.325,"v":0.03},
   {"x":0.05,"y":2.475,"v":0.04},{"x":0.15,"y":2.475,"v":0.06},{"x":0.25,"y":2.475,"v":0.06},{"x":0.35,"y":2.475,"v":0.06},{"x":0.45,"y":2.475,"v":0.06},{"x":0.55,"y":2.475,"v":0.04},{"x":0.65,"y":2.475,"v":0.02},
   {"x":0.05,"y":2.625,"v":0.02},{"x":0.15,"y":2.625,"v":0.04},{"x":0.25,"y":2.625,"v":0.04},{"x":0.35,"y":2.625,"v":0.04},{"x":0.45,"y":2.625,"v":0.03},{"x":0.55,"y":2.625,"v":0.02}
  ]
 },
 "config": {
  "view": {"stroke": null, "fill": "#00ffff"},
  "axis": {"ticks": false, "domain": false, "grid": false, "format": "d", "labelFont": "Liberation Sans", "labelFontSize": 22, "labelColor": "black", "labelFlush": true, "labelPadding": 3}
 }
}
